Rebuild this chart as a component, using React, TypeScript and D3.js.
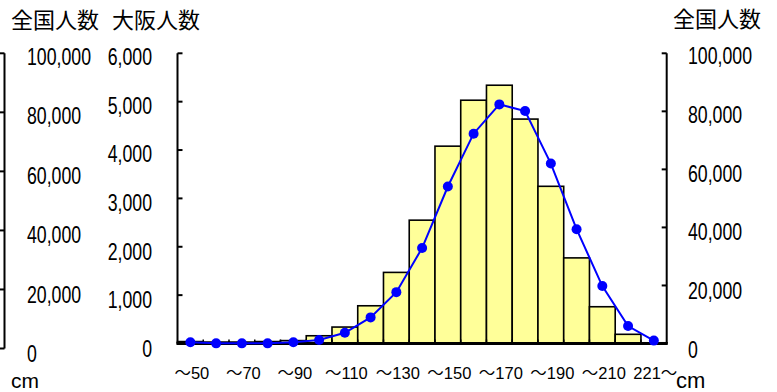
import * as d3 from 'd3';

// 身長区分 (cm)
const categories = [
  '〜50', '〜60', '〜70', '〜80', '〜90', '〜100', '〜110', '〜120', '〜130', '〜140',
  '〜150', '〜160', '〜170', '〜180', '〜190', '〜200', '〜210', '〜220', '221〜',
];
// 大阪人数 (棒, 左軸)
const osakaCounts = [40, 30, 30, 40, 60, 160, 340, 780, 1470, 2550, 4080, 5030, 5340, 4640, 3250, 1770, 760, 190, 15];
// 全国人数 (折れ線, 右軸)
const nationalCounts = [400, 50, 50, 50, 400, 1200, 3700, 9000, 17700, 32900, 54100, 72300, 82400, 80100, 62000, 39400, 19800, 6000, 1000];

const osakaTicks = [0, 1000, 2000, 3000, 4000, 5000, 6000];
const nationalTicks = [0, 20000, 40000, 60000, 80000, 100000];

const W = 777;
const H = 392;
const NUM_FONT = "'Liberation Sans', Arial, sans-serif";
const CJK_FONT = "'Noto Sans CJK JP', sans-serif";
const fmt = d3.format(',');

// condensed number label (the original uses a narrow face)
function Num({ x, y, text, anchor = 'start' }: { x: number; y: number; text: string; anchor?: string }) {
  return (
    <g transform={`translate(${x},${y}) scale(0.77,1)`}>
      <text x={0} y={0} fontFamily={NUM_FONT} fontSize={23} textAnchor={anchor} dominantBaseline="central">{text}</text>
    </g>
  );
}

export default function App() {
  const plotLeft = 177.5;
  const plotRight = 666.7;
  const plotTop = 53.3;
  const plotBottom = 343.5;

  const x = d3.scaleBand<string>().domain(categories).range([plotLeft, plotRight]).padding(0);
  const yOsaka = d3.scaleLinear().domain([0, 6000]).range([plotBottom, plotTop]);
  const yNational = d3.scaleLinear().domain([0, 100000]).range([plotBottom, plotTop]);
  // label positions sit a little lower than ticks, as in the original
  const yOsakaLabel = d3.scaleLinear().domain([0, 6000]).range([348.5, 56.5]);
  const yNatLabelR = d3.scaleLinear().domain([0, 100000]).range([349.5, 55.5]);
  // neighbouring (cropped) axis on the far left
  const yFarLeft = d3.scaleLinear().domain([0, 100000]).range([348.5, 53.3]);
  const yFarLeftLabel = d3.scaleLinear().domain([0, 100000]).range([353.5, 56.7]);

  const bw = x.bandwidth();
  const line = d3.line<number>()
    .x((_, i) => x(categories[i])! + bw / 2)
    .y(d => yNational(d));

  return (
    <svg width={W} height={H} style={{ position: 'absolute', left: 0, top: 0, background: '#fff' }}>
      {/* titles */}
      <text x={11} y={18} fontFamily={CJK_FONT} fontSize={22} dominantBaseline="central">全国人数</text>
      <text x={112} y={18} fontFamily={CJK_FONT} fontSize={22} dominantBaseline="central">大阪人数</text>
      <text x={673} y={17} fontFamily={CJK_FONT} fontSize={22} dominantBaseline="central">全国人数</text>

      {/* far-left axis (cropped) */}
      <line x1={4.5} x2={4.5} y1={yFarLeft(100000)} y2={yFarLeft(0)} stroke="#000" strokeWidth={2} />
      {nationalTicks.map(t => (
        <line key={'fl' + t} x1={0} x2={4.5} y1={yFarLeft(t)} y2={yFarLeft(t)} stroke="#000" strokeWidth={2} />
      ))}
      {nationalTicks.map(t => (
        <Num key={'fll' + t} x={27} y={yFarLeftLabel(t)} text={fmt(t)} />
      ))}
      <text x={11} y={380} fontFamily={NUM_FONT} fontSize={21} dominantBaseline="central">cm</text>

      {/* left axis labels (大阪) */}
      {osakaTicks.map(t => (
        <Num key={'ol' + t} x={152} y={yOsakaLabel(t)} text={fmt(t)} anchor="end" />
      ))}

      {/* right axis labels (全国) */}
      {nationalTicks.map(t => (
        <Num key={'nl' + t} x={688} y={yNatLabelR(t)} text={fmt(t)} />
      ))}

      {/* bars */}
      {osakaCounts.map((v, i) => (
        <rect key={'b' + i} x={x(categories[i])} y={yOsaka(v)} width={bw}
          height={plotBottom - yOsaka(v)} fill="#FFFF99" stroke="#000" strokeWidth={1.6} />
      ))}

      {/* axes */}
      <line x1={plotLeft} x2={plotLeft} y1={plotTop} y2={plotBottom} stroke="#000" strokeWidth={2} />
      {osakaTicks.map(t => (
        <line key={'ot' + t} x1={plotLeft} x2={plotLeft + 5} y1={yOsaka(t)} y2={yOsaka(t)} stroke="#000" strokeWidth={2} />
      ))}
      <line x1={plotRight} x2={plotRight} y1={plotTop} y2={plotBottom} stroke="#000" strokeWidth={2} />
      {nationalTicks.map(t => (
        <line key={'nt' + t} x1={plotRight - 5} x2={plotRight} y1={yNational(t)} y2={yNational(t)} stroke="#000" strokeWidth={2} />
      ))}
      <line x1={plotLeft - 1} x2={plotRight + 1} y1={plotBottom} y2={plotBottom} stroke="#000" strokeWidth={3} />
      {categories.slice(1).map(c => (
        <line key={'ct' + c} x1={x(c)} x2={x(c)} y1={plotBottom - 4} y2={plotBottom} stroke="#000" strokeWidth={1.5} />
      ))}

      {/* national line */}
      <path d={line(nationalCounts) || ''} fill="none" stroke="#0000FF" strokeWidth={2} />
      {nationalCounts.map((v, i) => (
        <circle key={'m' + i} cx={x(categories[i])! + bw / 2} cy={yNational(v)} r={5} fill="#0000FF" />
      ))}

      {/* category labels, every other one */}
      {categories.map((c, i) => i % 2 === 0 ? (
        <text key={'cl' + c} x={x(c)! + bw / 2 + 1.5} y={373} textAnchor="middle" dominantBaseline="central"
          fontSize={16.5} fontFamily="'Liberation Sans', 'Noto Sans CJK JP', sans-serif">{c}</text>
      ) : null)}
      <text x={676} y={380} fontFamily={NUM_FONT} fontSize={22} dominantBaseline="central">cm</text>
    </svg>
  );
}
